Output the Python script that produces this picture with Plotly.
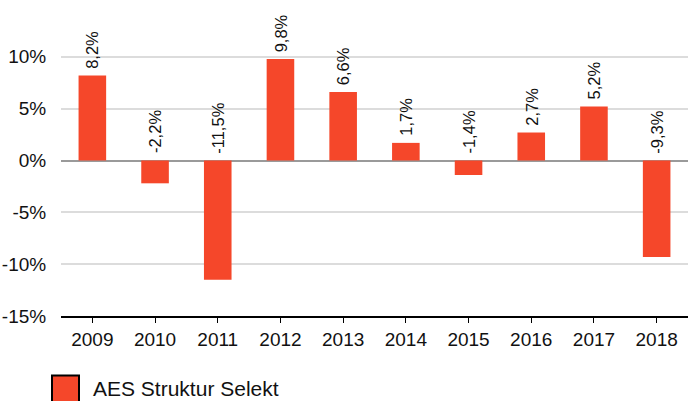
import plotly.graph_objects as go

years = ["2009", "2010", "2011", "2012", "2013", "2014", "2015", "2016", "2017", "2018"]
values = [8.2, -2.2, -11.5, 9.8, 6.6, 1.7, -1.4, 2.7, 5.2, -9.3]
labels = ["8,2%", "-2,2%", "-11,5%", "9,8%", "6,6%", "1,7%", "-1,4%", "2,7%", "5,2%", "-9,3%"]
series_name = "AES Struktur Selekt"
ytick_vals = [-15, -10, -5, 0, 5, 10]
ytick_text = ["-15%", "-10%", "-5%", "0%", "5%", "10%"]

color = "#F5472A"
font_family = "Liberation Sans, Arial, sans-serif"

fig = go.Figure()
fig.add_trace(go.Bar(x=years, y=values, name=series_name, marker=dict(color=color, line=dict(width=0)),
                     showlegend=False, hoverinfo="skip"))

for i, (v, t) in enumerate(zip(values, labels)):
    fig.add_annotation(x=i, y=max(v, 0), xref="x", yref="y", text=t, showarrow=False,
                       textangle=-90, xanchor="center", yanchor="bottom", yshift=5,
                       font=dict(family=font_family, size=16.5, color="#111"))

# manual legend
PW, PH, PL, PB = 627, 311.5, 61, 316.5
fig.add_shape(type="rect", xref="paper", yref="paper",
              x0=(52 - PL) / PW, x1=(79 - PL) / PW, y0=-(376 - PB) / PH, y1=-(410 - PB) / PH,
              fillcolor=color, line=dict(color="black", width=2))
fig.add_annotation(xref="paper", yref="paper", x=(91 - PL) / PW, y=-(389 - PB) / PH,
                   text=series_name, showarrow=False, xanchor="left", yanchor="middle",
                   font=dict(family=font_family, size=21, color="#111"))

fig.update_layout(
    width=689, height=401,
    margin=dict(l=61, r=1, t=5, b=84.5),
    plot_bgcolor="white", paper_bgcolor="white",
    bargap=0.56,
    showlegend=False,
    font=dict(family=font_family, color="#111"),
    xaxis=dict(type="category", range=[-0.5, len(years) - 0.5], showgrid=False, showline=True,
               linecolor="black", linewidth=2,
               ticks="outside", ticklen=5, tickcolor="black", tickwidth=1,
               tickfont=dict(size=19), fixedrange=True),
    yaxis=dict(range=[-15, 15], tickvals=ytick_vals, ticktext=ytick_text,
               showgrid=True, gridcolor="#dcdcdc", gridwidth=1.5,
               zeroline=True, zerolinecolor="#9a9a9a", zerolinewidth=1.5,
               showline=False, ticks="outside", ticklen=10, tickcolor="rgba(0,0,0,0)",
               tickfont=dict(size=19), fixedrange=True),
)

fig.write_html("out.html", config={"displayModeBar": False},
               post_script="document.body.style.margin='0px';")
